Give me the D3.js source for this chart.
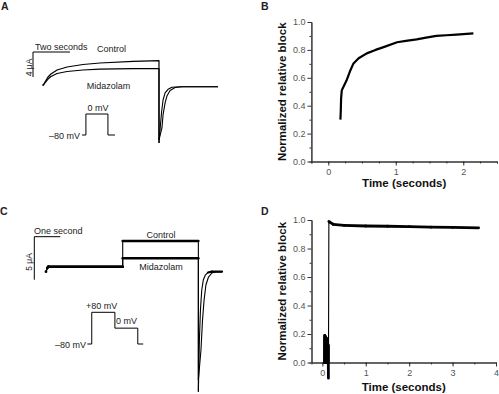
<!DOCTYPE html>
<html>
<head>
<meta charset="utf-8">
<script src="https://d3js.org/d3.v7.min.js"></script>
<style>
  body { margin: 0; background: #fff; }
  svg text { font-family: "Liberation Sans", Arial, sans-serif; }
</style>
</head>
<body>
<div id="chart"></div>
<script>
// ---- panel A: currents (s, uA) ----
var aCtrlT = [0.52, 0.59, 0.68, 0.81, 0.97, 1.30, 1.84, 2.70, 3.62, 5.41, 6.81, 6.81];
var aCtrlI = [0.19, 0.43, 0.91, 1.55, 2.03, 2.67, 3.15, 3.55, 3.79, 4.06, 4.16, -9.0];
var aCtrlTailT = [6.81, 6.89, 6.95, 7.03, 7.14, 7.30, 7.51, 7.95, 10];
var aCtrlTailI = [-9.0, -6.1, -4.05, -2.13, -1.0, -0.42, -0.1, 0, 0];
var aMidT = [0.52, 0.59, 0.68, 0.81, 0.97, 1.30, 1.84, 2.70, 3.62, 5.41, 6.81, 6.81];
var aMidI = [0.19, 0.35, 0.75, 1.23, 1.63, 2.11, 2.43, 2.67, 2.80, 2.88, 2.91, -8.5];
var aMidTailT = [6.81, 6.97, 7.03, 7.14, 7.24, 7.41, 7.68, 8.1, 10];
var aMidTailI = [-8.5, -6.6, -4.5, -2.6, -1.5, -0.6, -0.13, 0, 0];
var aProtoT = [2.65, 2.86, 2.86, 4.05, 4.05, 4.43];
var aProtoV = [-80, -80, 0, 0, -80, -80];

// ---- panel B: normalized block vs time ----
var bTime = [0.18, 0.185, 0.19, 0.20, 0.22, 0.27, 0.32, 0.37, 0.45, 0.57, 0.70, 0.82, 1.02, 1.15, 1.31, 1.45, 1.60, 1.75, 1.90, 2.05, 2.15];
var bBlock = [0.30, 0.36, 0.45, 0.51, 0.53, 0.58, 0.645, 0.70, 0.74, 0.775, 0.80, 0.82, 0.855, 0.865, 0.875, 0.888, 0.90, 0.905, 0.91, 0.915, 0.918];

// ---- panel C: currents ----
var cCtrlT = [0.45, 0.50, 0.54, 3.40, 3.40, 6.31, 6.31];
var cCtrlI = [0, 0.43, 0.58, 0.58, 3.57, 3.57, -13.95];
var cCtrlTailT = [6.31, 6.35, 6.39, 6.44, 6.50, 6.57, 6.68, 6.83, 7.22];
var cCtrlTailI = [-13.95, -7.9, -4.47, -2.13, -0.97, -0.44, -0.09, 0, 0];
var cMidT = [0.45, 0.50, 0.54, 3.40, 3.40, 6.31, 6.31];
var cMidI = [0, 0.43, 0.58, 0.58, 1.56, 1.56, -12.6];
var cMidTailT = [6.31, 6.41, 6.47, 6.53, 6.60, 6.70, 6.83, 6.99, 7.22];
var cMidTailI = [-12.6, -9.1, -5.6, -3.3, -1.55, -0.62, -0.15, 0, 0];
var cProtoT = [2.04, 2.21, 2.21, 3.10, 3.10, 3.98, 3.98, 4.19];
var cProtoV = [-80, -80, 80, 80, 0, 0, -80, -80];

// ---- panel D: normalized block vs time ----
var dTime = [0.05, 0.055, 0.06, 0.065, 0.07, 0.075, 0.08, 0.085, 0.09, 0.095, 0.10, 0.105, 0.11, 0.115, 0.12, 0.125, 0.13, 0.135, 0.14, 0.15, 0.17, 0.25, 0.5, 1.0, 1.5, 2.0, 2.5, 3.0, 3.6];
var dBlock = [0, 0.19, 0, 0.18, 0, 0.18, 0, 0.17, 0, 0.17, 0, 0.15, 0, 0.14, 0, 0.13, 0, 0.12, -0.11, 0.99, 0.985, 0.97, 0.962, 0.958, 0.956, 0.953, 0.95, 0.948, 0.945];

var svg = d3.select("#chart").append("svg")
    .attr("width", 499).attr("height", 394);

function zip(a, b) { return a.map(function(v, i) { return [v, b[i]]; }); }

function trace(g, x, y, ts, vs, w) {
  g.append("path")
    .datum(zip(ts, vs))
    .attr("fill", "none")
    .attr("stroke", "#000")
    .attr("stroke-width", w)
    .attr("stroke-linejoin", "round")
    .attr("d", d3.line().x(function(d) { return x(d[0]); }).y(function(d) { return y(d[1]); }));
}

// thick overlay only on the segments that pass the test (flat parts of a sweep)
function thickParts(g, x, y, ts, vs, w, test) {
  for (var i = 0; i < ts.length - 1; i++) {
    if (!test(ts[i], vs[i], ts[i + 1], vs[i + 1])) continue;
    g.append("line")
      .attr("x1", x(ts[i])).attr("y1", y(vs[i]))
      .attr("x2", x(ts[i + 1])).attr("y2", y(vs[i + 1]))
      .attr("stroke", "#000").attr("stroke-width", w).attr("stroke-linecap", "round");
  }
}

function label(txt, x, y, anchor, size, weight) {
  return svg.append("text")
    .attr("x", x).attr("y", y)
    .attr("text-anchor", anchor || "start")
    .attr("font-size", size || 9)
    .attr("font-weight", weight || "normal")
    .attr("fill", "#222")
    .text(txt);
}

// panel letters
label("A", 1, 10, "start", 10.5, "bold");
label("B", 261, 10, "start", 10.5, "bold");
label("C", 0, 215, "start", 10.5, "bold");
label("D", 261, 215, "start", 10.5, "bold");

// ================= Panel A =================
var ax = d3.scaleLinear().domain([0, 2]).range([33, 70]);
var ay = d3.scaleLinear().domain([0, 4]).range([86.7, 61.7]);
var av = d3.scaleLinear().domain([-80, 0]).range([135, 114]);
var gA = svg.append("g");

// scale bar: 2 s, 4 uA
trace(gA, ax, ay, [2, 0, 0], [5.55, 5.55, 1.55], 1);
label("Two seconds", 35, 49.5);
svg.append("text").attr("transform", "translate(31.5,67.5) rotate(-90)")
  .attr("text-anchor", "middle").attr("font-size", 8.5).attr("fill", "#222").text("4 μA");

trace(gA, ax, ay, aCtrlT, aCtrlI, 1.2);
trace(gA, ax, ay, aCtrlTailT, aCtrlTailI, 1.1);
trace(gA, ax, ay, aMidT, aMidI, 1.2);
trace(gA, ax, ay, aMidTailT, aMidTailI, 1.1);
trace(gA, ax, av, aProtoT, aProtoV, 1);
label("Control", 111.5, 52, "middle");
label("Midazolam", 108.5, 88.5, "middle");
label("0 mV", 98, 111, "middle");
label("–80 mV", 80, 139, "end");

// ================= Panel C =================
var cx = d3.scaleLinear().domain([0, 1]).range([34.3, 60.3]);
var cy = d3.scaleLinear().domain([0, 5]).range([271.7, 228.7]);
var cv = d3.scaleLinear().domain([-80, 80]).range([344, 312.3]);
var gC = svg.append("g");

trace(gC, cx, cy, [1, 0, 0], [4.07, 4.07, -0.93], 1);
label("One second", 34, 233.5);
svg.append("text").attr("transform", "translate(31.5,262) rotate(-90)")
  .attr("text-anchor", "middle").attr("font-size", 8.5).attr("fill", "#222").text("5 μA");

var flatC = function(t0, v0, t1, v1) { return t1 > t0 && Math.abs(v1 - v0) < 0.3; };
trace(gC, cx, cy, cCtrlT, cCtrlI, 1.1);
trace(gC, cx, cy, cCtrlTailT, cCtrlTailI, 1.1);
trace(gC, cx, cy, cMidT, cMidI, 1.1);
trace(gC, cx, cy, cMidTailT, cMidTailI, 1.1);
thickParts(gC, cx, cy, cCtrlT, cCtrlI, 2.6, flatC);
thickParts(gC, cx, cy, cMidT, cMidI, 2.6, flatC);
thickParts(gC, cx, cy, cCtrlTailT, cCtrlTailI, 2.2, flatC);
gC.append("circle").attr("cx", cx(cCtrlT[0])).attr("cy", cy(cCtrlI[0])).attr("r", 1.4).attr("fill", "#000");
trace(gC, cx, cv, cProtoT, cProtoV, 1);
label("Control", 161, 237.5, "middle");
label("Midazolam", 161, 270, "middle");
label("+80 mV", 101.7, 308.5, "middle");
label("0 mV", 116, 324);
label("–80 mV", 86, 347.5, "end");

// ================= Plot panels B and D =================
function plotPanel(opt) {
  var g = svg.append("g");
  var x = d3.scaleLinear().domain(opt.xDomain).range(opt.xRange);
  var y = d3.scaleLinear().domain([0, 1]).range(opt.yRange);

  // minor ticks
  g.append("g").attr("transform", "translate(" + opt.xRange[0] + ",0)")
    .call(d3.axisLeft(y).tickValues(d3.range(0.1, 1, 0.2)).tickSize(2).tickFormat(""));
  g.append("g").attr("transform", "translate(0," + opt.yRange[0] + ")")
    .call(d3.axisBottom(x).tickValues(opt.xMinor).tickSize(2).tickFormat(""));
  // major ticks
  g.append("g").attr("transform", "translate(" + opt.xRange[0] + ",0)")
    .call(d3.axisLeft(y).tickValues([0, 0.2, 0.4, 0.6, 0.8, 1.0]).tickSize(4).tickSizeOuter(0)
      .tickPadding(2).tickFormat(d3.format(".1f")));
  g.append("g").attr("transform", "translate(0," + opt.yRange[0] + ")")
    .call(d3.axisBottom(x).tickValues(opt.xMajor).tickSize(4).tickSizeOuter(0)
      .tickPadding(3).tickFormat(d3.format("d")));

  g.selectAll(".domain").attr("stroke", "#333");
  g.selectAll(".tick line").attr("stroke", "#333");
  g.selectAll(".tick text").attr("font-size", 9).attr("fill", "#555")
    .attr("font-family", "Liberation Sans, Arial, sans-serif");

  if (opt.thin) {
    trace(g, x, y, opt.t, opt.v, 1.1);
    thickParts(g, x, y, opt.t, opt.v, opt.w, function(t0, v0, t1, v1) { return Math.abs(v1 - v0) < 0.3; });
  } else {
    trace(g, x, y, opt.t, opt.v, opt.w);
  }

  svg.append("text")
    .attr("transform", "translate(" + opt.yLabelX + "," + ((opt.yRange[0] + opt.yRange[1]) / 2) + ") rotate(-90)")
    .attr("text-anchor", "middle").attr("font-size", 11.5).attr("font-weight", "bold").attr("fill", "#111")
    .text("Normalized relative block");
  svg.append("text")
    .attr("x", (opt.xRange[0] + opt.xRange[1]) / 2).attr("y", opt.xLabelY)
    .attr("text-anchor", "middle").attr("font-size", 11.5).attr("font-weight", "bold").attr("fill", "#111")
    .text("Time (seconds)");
}

plotPanel({
  xDomain: [-0.25, 2.5], xRange: [311.4, 497], yRange: [161.5, 22],
  xMajor: [0, 1, 2], xMinor: d3.range(-0.25, 2.51, 0.25),
  t: bTime, v: bBlock, w: 2.2, yLabelX: 286, xLabelY: 187
});

plotPanel({
  xDomain: [-0.25, 4], xRange: [311.5, 496], yRange: [362.5, 220],
  xMajor: [0, 1, 2, 3, 4], xMinor: d3.range(-0.5, 4.01, 0.5).filter(function(d){ return d > -0.25; }),
  t: dTime, v: dBlock, w: 2.8, thin: true, yLabelX: 286, xLabelY: 391
});
</script>
</body>
</html>
